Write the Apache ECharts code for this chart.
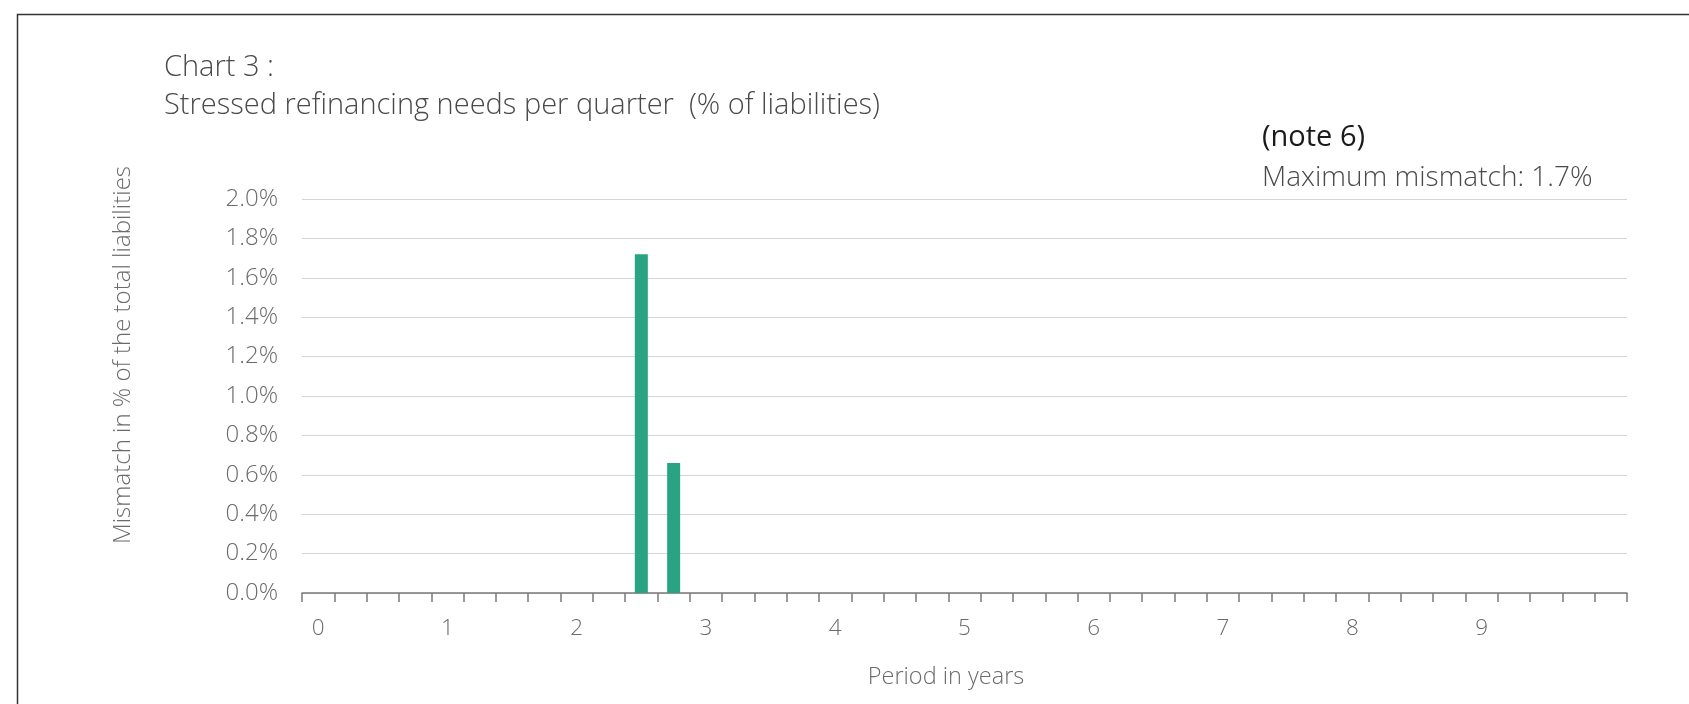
<!DOCTYPE html>
<html>
<head>
<meta charset="utf-8">
<script src="https://cdn.jsdelivr.net/npm/echarts@6/dist/echarts.min.js"></script>
<style>
  html, body { margin: 0; padding: 0; background: #ffffff; }
  #chart { width: 1689px; height: 704px; }
</style>
</head>
<body>
<div id="chart"></div>
<script>
// ---- data ----
const yearLabels = ['0', '1', '2', '3', '4', '5', '6', '7', '8', '9'];
const quartersPerYear = 4;
const quarterCount = 41;
// stressed refinancing need per quarter, % of liabilities (quarter index -> value)
const quarterIndexWithNeeds = [10, 11];
const needsValues = [1.72, 0.66];
const yTicks = [0, 0.2, 0.4, 0.6, 0.8, 1.0, 1.2, 1.4, 1.6, 1.8, 2.0];

const titleLine1 = 'Chart 3 :';
const titleLine2 = 'Stressed refinancing needs per quarter  (% of liabilities)';
const noteText = '(note 6)';
const maxText = 'Maximum mismatch: 1.7%';
const yAxisName = 'Mismatch in % of the total liabilities';
const xAxisName = 'Period in years';

// ---- build ----
const categories = [];
const values = [];
for (let i = 0; i < quarterCount; i++) {
  const y = i / quartersPerYear;
  categories.push(i % quartersPerYear === 0 && yearLabels[y] !== undefined ? yearLabels[y] : '');
  values.push(0);
}
quarterIndexWithNeeds.forEach((qi, k) => { values[qi] = needsValues[k]; });

const FONT = '"Open Sans", Roboto, sans-serif';
const chart = echarts.init(document.getElementById('chart'), null, { renderer: 'canvas' });

chart.setOption({
  backgroundColor: '#ffffff',
  animation: false,
  grid: { left: 302, right: 62, top: 199, bottom: 111, containLabel: false },
  xAxis: {
    type: 'category',
    data: categories,
    boundaryGap: true,
    axisLine: { show: true, lineStyle: { color: '#7a7a7a', width: 1.5 } },
    axisTick: { show: true, interval: 0, alignWithLabel: false, length: 9, lineStyle: { color: '#7a7a7a', width: 1.5 } },
    axisLabel: { interval: 0, color: '#6b6b6b', fontFamily: FONT, fontWeight: 300, fontSize: 22.5, margin: 24 },
    splitLine: { show: false }
  },
  yAxis: {
    type: 'value',
    min: yTicks[0],
    max: yTicks[yTicks.length - 1],
    interval: 0.2,
    axisLine: { show: false },
    axisTick: { show: false },
    axisLabel: {
      color: '#6b6b6b', fontFamily: FONT, fontWeight: 300, fontSize: 24, margin: 24,
      formatter: v => v.toFixed(1) + '%'
    },
    splitLine: { show: true, lineStyle: { color: '#d4d4d4', width: 1.2 } }
  },
  series: [{
    type: 'bar',
    data: values,
    barWidth: 13,
    itemStyle: { color: '#2aa382' },
    silent: true
  }],
  graphic: [
    { type: 'rect', shape: { x: 17.5, y: 14.5, width: 2000, height: 1000 },
      style: { fill: 'none', stroke: '#333333', lineWidth: 1.5 }, silent: true, z: -1 },
    { type: 'text', x: 164, y: 68,
      style: { text: titleLine1, font: '300 29px ' + FONT, fill: '#4a4a4a', textVerticalAlign: 'middle' } },
    { type: 'text', x: 164, y: 106,
      style: { text: titleLine2, font: '300 29px ' + FONT, fill: '#4a4a4a', textVerticalAlign: 'middle' } },
    { type: 'text', x: 1262, y: 138,
      style: { text: noteText, font: '400 29px ' + FONT, fill: '#1a1a1a', textVerticalAlign: 'middle' } },
    { type: 'text', x: 1262, y: 178,
      style: { text: maxText, font: '300 28px ' + FONT, fill: '#4a4a4a', textVerticalAlign: 'middle' } },
    { type: 'text', x: 123, y: 355, rotation: Math.PI / 2,
      style: { text: yAxisName, font: '300 24px ' + FONT, fill: '#6b6b6b', textAlign: 'center', textVerticalAlign: 'middle' } },
    { type: 'text', x: 946, y: 677,
      style: { text: xAxisName, font: '300 23.5px ' + FONT, fill: '#6b6b6b', textAlign: 'center', textVerticalAlign: 'middle' } }
  ]
});
</script>
</body>
</html>
